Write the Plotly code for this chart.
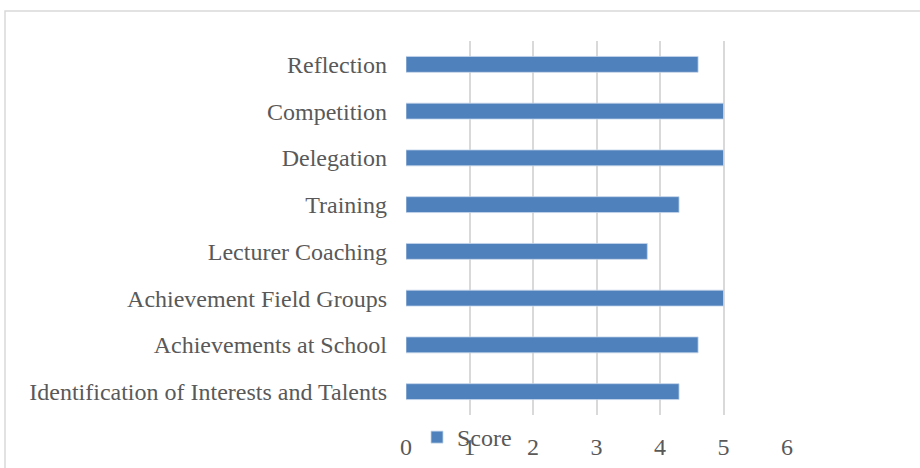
import plotly.graph_objects as go

categories = ["Identification of Interests and Talents", "Achievements at School",
              "Achievement Field Groups", "Lecturer Coaching", "Training",
              "Delegation", "Competition", "Reflection"]
scores = [4.3, 4.6, 5.0, 3.8, 4.3, 5.0, 5.0, 4.6]
x_ticks = [0, 1, 2, 3, 4, 5, 6]

W, H = 920, 468
L, R, T, B = 406, 787, 41, 415

fig = go.Figure()
fig.add_trace(go.Bar(
    y=categories, x=scores, orientation="h", name="Score",
    marker=dict(color="#4F81BD", line=dict(color="#C5D5EA", width=0.8)),
    showlegend=True,
))

pw, ph = R - L, B - T
fig.update_layout(
    width=W, height=H,
    margin=dict(l=L, r=W - R, t=T, b=H - B, pad=0, autoexpand=False),
    paper_bgcolor="white", plot_bgcolor="white",
    font=dict(family="Liberation Serif, Times New Roman, serif", size=24, color="#595959"),
    bargap=0.66,
    xaxis=dict(range=[0, 6], tickvals=x_ticks, showgrid=True, gridcolor="#D9D9D9",
               gridwidth=1.5, zeroline=False, showline=False, ticks="",
               ticklabelstandoff=15, fixedrange=True, automargin=False),
    yaxis=dict(categoryorder="array", categoryarray=categories, showgrid=False,
               zeroline=False, showline=False, ticks="", ticklabelstandoff=18,
               fixedrange=True, automargin=False),
    legend=dict(x=(417 - L) / pw, y=(B - 415) / ph, xanchor="left", yanchor="top",
                orientation="h", bgcolor="rgba(0,0,0,0)", font=dict(size=24, color="#595959"),
                itemwidth=30, tracegroupgap=0),
    shapes=[dict(type="rect", xref="paper", yref="paper",
                 x0=(5 - L) / pw, x1=(W + 20 - L) / pw,
                 y0=(B - (H + 20)) / ph, y1=1 + (T - 11) / ph,
                 line=dict(color="#D9D9D9", width=1.5), fillcolor="rgba(0,0,0,0)",
                 layer="below")],
)

fig.write_html("out.html", post_script="document.body.style.margin='0';",
               config={"displayModeBar": False})
